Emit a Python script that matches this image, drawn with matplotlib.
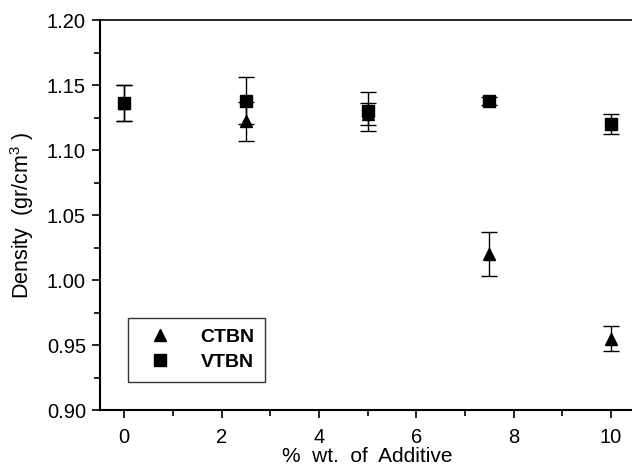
import matplotlib
matplotlib.use("Agg")
from matplotlib import pyplot as plt
from matplotlib.ticker import MultipleLocator, FormatStrFormatter

plt.rcParams['font.family'] = ['Liberation Sans', 'DejaVu Sans']
plt.rcParams['mathtext.fontset'] = 'custom'
plt.rcParams['mathtext.rm'] = 'Liberation Sans'

additive = [0, 2.5, 5, 7.5, 10]
ctbn = [1.136, 1.122, 1.1275, 1.020, 0.955]
ctbn_err = [0.014, 0.015, 0.0085, 0.017, 0.0097]
vtbn = [1.136, 1.138, 1.130, 1.138, 1.120]
vtbn_err = [0.014, 0.018, 0.015, 0.003, 0.008]

fig = plt.figure(figsize=(6.32, 4.67), dpi=100)
ax = fig.add_axes([0.158, 0.122, 0.847, 0.835])

ax.errorbar(additive, ctbn, yerr=ctbn_err, fmt='^', color='black', ms=9,
            capsize=6, elinewidth=1, capthick=1, label='CTBN')
ax.errorbar(additive, vtbn, yerr=vtbn_err, fmt='s', color='black', ms=8.5,
            capsize=6, elinewidth=1, capthick=1, label='VTBN')

ax.set_xlim(-0.5, 10.5)
ax.set_ylim(0.90, 1.20)
ax.xaxis.set_major_locator(MultipleLocator(2))
ax.xaxis.set_minor_locator(MultipleLocator(1))
ax.yaxis.set_major_locator(MultipleLocator(0.05))
ax.yaxis.set_minor_locator(MultipleLocator(0.025))
ax.yaxis.set_major_formatter(FormatStrFormatter('%.2f'))

ax.tick_params(which='major', direction='out', length=6, width=1.2, labelsize=14.5)
ax.tick_params(axis='x', which='major', pad=7)
ax.tick_params(axis='y', which='major', pad=4)
ax.tick_params(which='minor', direction='out', length=4, width=1.2)
ax.tick_params(axis='y', which='both', right=False)
ax.tick_params(axis='x', which='both', top=False)

ax.spines['left'].set_linewidth(1.5)
ax.spines['bottom'].set_linewidth(1.5)
ax.spines['top'].set_linewidth(1.2)
ax.spines['right'].set_visible(False)

ax.set_xlabel('%  wt.  of  Additive', fontsize=15, labelpad=0)
ax.set_ylabel('Density  (gr/cm$^{3}$ )', fontsize=15.5, labelpad=8)

handles, labels = ax.get_legend_handles_labels()
handles = [h[0] for h in handles]
leg = ax.legend(handles, labels, loc='lower left', bbox_to_anchor=(0.052, 0.072),
                frameon=True, fancybox=False, edgecolor='black',
                prop={'weight': 'bold', 'size': 14}, handletextpad=1.0,
                borderpad=0.55, labelspacing=0.4, borderaxespad=0,
                handlelength=2.2)
leg.get_frame().set_linewidth(1.0)

fig.savefig('out.png', dpi=100)
